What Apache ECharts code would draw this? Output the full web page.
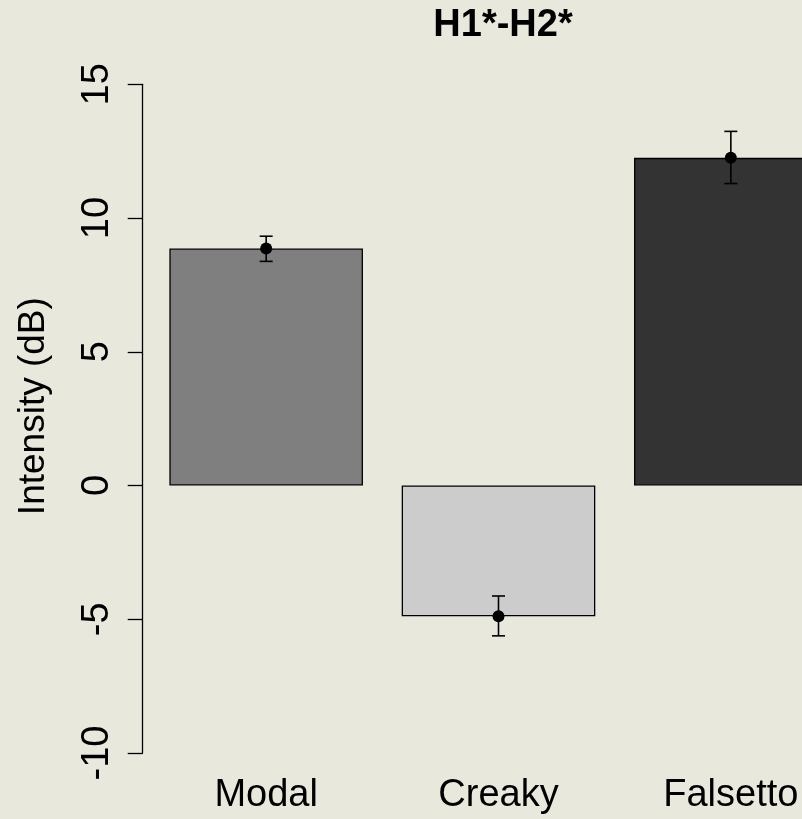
<!DOCTYPE html>
<html>
<head>
<meta charset="utf-8">
<script src="https://cdn.jsdelivr.net/npm/echarts@6/dist/echarts.min.js"></script>
<style>
  html, body { margin: 0; padding: 0; background: #E9E8DC; overflow: hidden; }
  #frame { width: 802px; height: 819px; overflow: hidden; position: relative; }
  /* the plot region runs past the right edge of the frame, so the last bar is cut off */
  #chart { width: 847px; height: 819px; position: absolute; left: 0; top: 0; }
</style>
</head>
<body>
<div id="frame"><div id="chart"></div></div>
<script>
// Phonation types and their H1*-H2* means (dB) with error-bar limits
const categories = ['Modal', 'Creaky', 'Falsetto'];
const means = [8.86, -4.89, 12.25];
const errLow = [8.38, -5.62, 11.29];
const errHigh = [9.32, -4.13, 13.24];
const barColors = ['#7F7F7F', '#CCCCCC', '#333333'];
const yTicks = { min: -10, max: 15, step: 5 };

const FONT = '"Liberation Sans", Arial, sans-serif';

const chart = echarts.init(document.getElementById('chart'), null, { renderer: 'canvas' });

const option = {
  backgroundColor: '#E9E8DC',
  animation: false,
  title: {
    text: 'H1*-H2*',
    left: 498,
    top: 2,
    textAlign: 'center',
    textStyle: { fontFamily: FONT, fontWeight: 'bold', fontSize: 38, color: '#000' }
  },
  grid: { left: 150, right: 0, top: 84.3, bottom: 66 },
  xAxis: {
    type: 'category',
    data: categories,
    axisLine: { show: false },
    axisTick: { show: false },
    axisLabel: { fontFamily: FONT, fontSize: 38, color: '#000', margin: 24 }
  },
  yAxis: {
    type: 'value',
    min: yTicks.min,
    max: yTicks.max,
    interval: yTicks.step,
    offset: 7.3,
    splitLine: { show: false },
    axisLine: { show: true, lineStyle: { color: '#000', width: 1.3 } },
    axisTick: { show: true, length: 15, lineStyle: { color: '#000', width: 1.3 } },
    axisLabel: { rotate: 90, fontFamily: FONT, fontSize: 38, color: '#000', margin: 26 },
    name: 'Intensity (dB)',
    nameLocation: 'middle',
    nameRotate: 90,
    nameGap: 90,
    nameTextStyle: { fontFamily: FONT, fontSize: 37, color: '#000', padding: [0, 0, 0, 25] }
  },
  series: [
    {
      type: 'bar',
      barWidth: 193.6,
      data: means.map((v, i) => ({
        value: v,
        itemStyle: { color: barColors[i], borderColor: '#000', borderWidth: 1.3 }
      })),
      z: 2
    },
    {
      type: 'custom',
      z: 5,
      data: categories.map((c, i) => [i, errLow[i], errHigh[i]]),
      renderItem: function (params, api) {
        const idx = api.value(0);
        const lo = api.coord([idx, api.value(1)]);
        const hi = api.coord([idx, api.value(2)]);
        const half = 6.5;
        const style = { stroke: '#000', lineWidth: 1.6 };
        return {
          type: 'group',
          children: [
            { type: 'line', shape: { x1: lo[0], y1: lo[1], x2: hi[0], y2: hi[1] }, style },
            { type: 'line', shape: { x1: lo[0] - half, y1: lo[1], x2: lo[0] + half, y2: lo[1] }, style },
            { type: 'line', shape: { x1: hi[0] - half, y1: hi[1], x2: hi[0] + half, y2: hi[1] }, style }
          ]
        };
      }
    },
    {
      type: 'scatter',
      z: 6,
      symbol: 'circle',
      symbolSize: 12,
      itemStyle: { color: '#000', opacity: 1 },
      data: means
    }
  ]
};

chart.setOption(option);
</script>
</body>
</html>
